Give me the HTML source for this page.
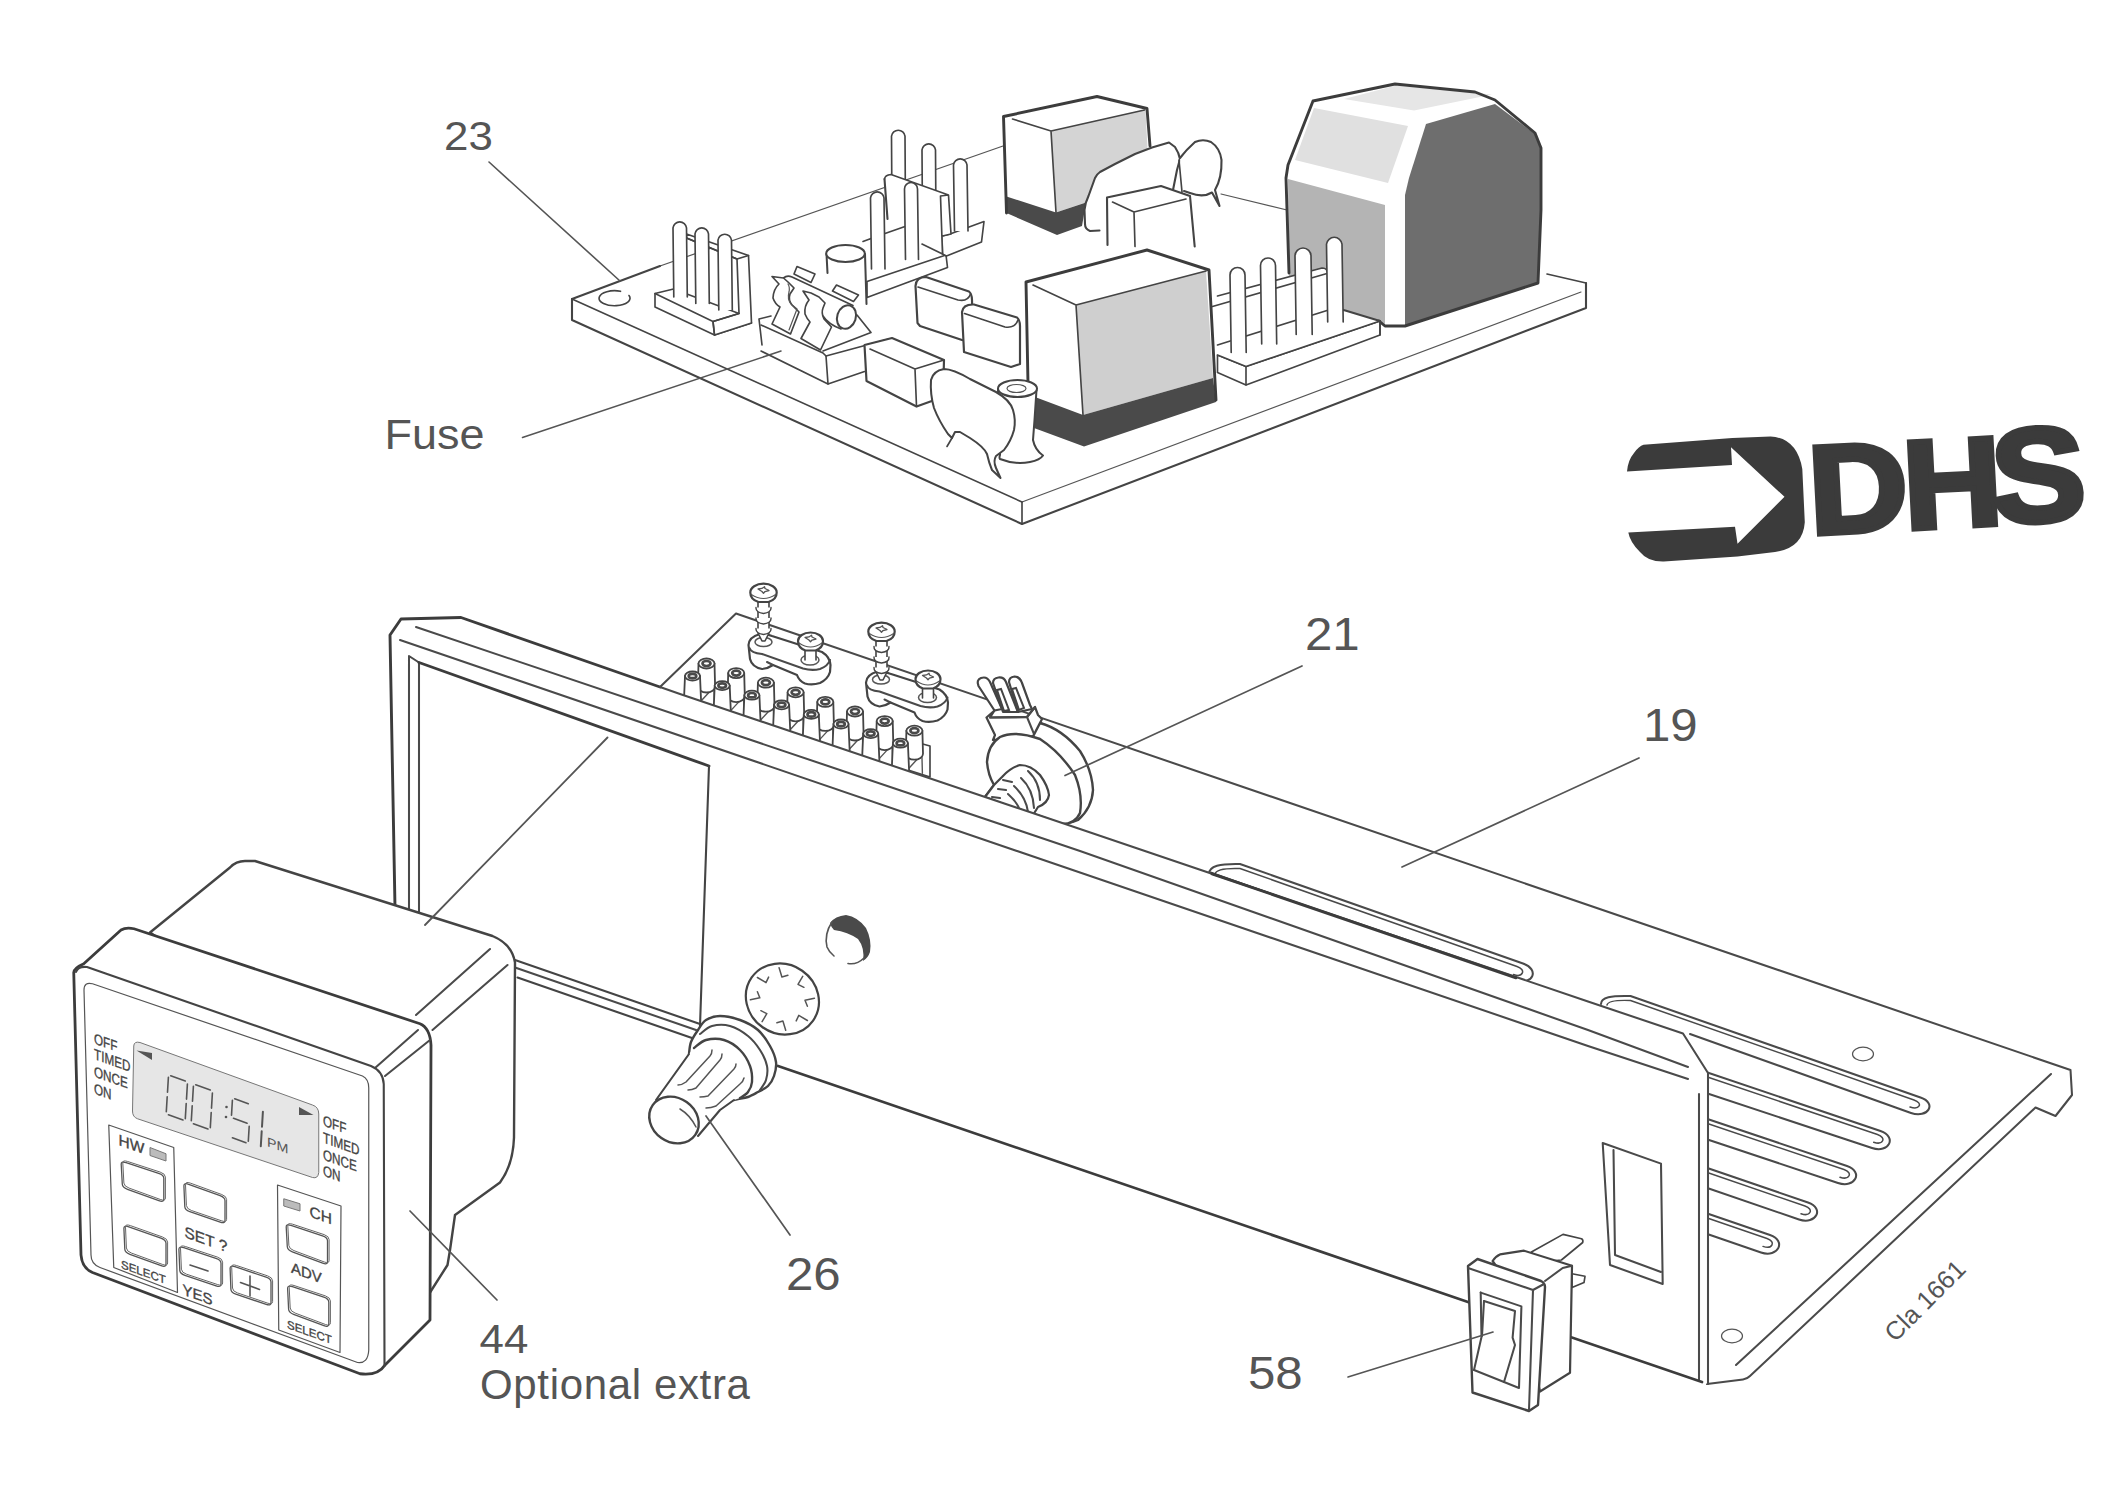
<!DOCTYPE html>
<html><head><meta charset="utf-8"><title>Cla 1661</title>
<style>
html,body{margin:0;padding:0;background:#fff;}
body{width:2118px;height:1502px;overflow:hidden;font-family:"Liberation Sans",sans-serif;}
svg{display:block;position:absolute;left:0;top:0;}
svg text{font-family:"Liberation Sans",sans-serif;fill:#555;}
.l{fill:none;stroke:#444;stroke-width:1.65;stroke-linecap:round;stroke-linejoin:round;}
.k{fill:none;stroke:#3c3c3c;stroke-width:2.9;stroke-linecap:round;stroke-linejoin:round;}
.m{fill:none;stroke:#444;stroke-width:2.1;stroke-linecap:round;stroke-linejoin:round;}
.p{fill:none;stroke:#4a4a4a;stroke-width:2.05;stroke-linecap:round;stroke-linejoin:round;}
.t{fill:none;stroke:#555;stroke-width:1.2;stroke-linecap:round;stroke-linejoin:round;}
.w{fill:#fff;stroke:#444;stroke-width:1.65;stroke-linecap:round;stroke-linejoin:round;}
.wk{fill:#fff;stroke:#3c3c3c;stroke-width:2.9;stroke-linecap:round;stroke-linejoin:round;}
.wt{fill:#fff;stroke:#555;stroke-width:1.3;stroke-linecap:round;stroke-linejoin:round;}
</style></head><body>
<svg width="2118" height="1502" viewBox="0 0 2118 1502">
<!-- PCB board -->
<g id="pcb-board">
<path class="t" d="M660 266 L1003 146"/>
<path class="t" d="M1221 194 L1287 210"/>
<path class="m" d="M572 299 L660 266"/>
<path class="l" d="M1547 274 L1586 283"/>
<path class="l" d="M572 299 L1022 502"/>
<path class="t" d="M1022 502 L1581 292"/>
<path class="m" d="M572 299 L572 320 L1022 524 L1586 308 L1586 283"/>
<path class="l" d="M1022 502 L1022 524"/>
<path class="l" d="M620.5 291.3 A15.5 7.5 0 1 0 629 295.5"/>
</g>

<!-- relay 1 (back) -->
<g id="relay1">
<path d="M1003.5 116.5 L1097 96.5 L1147 108.5 L1151 200 L1084 226 L1057 235 L1006.5 213 Z" fill="#fff"/>
<path d="M1051 131 L1145.5 109.5 L1150 198 L1084 203 L1056 212.5 Z" fill="#d4d4d4"/>
<path d="M1006.5 196.5 L1056 212.5 L1086 202.5 L1082 226 L1057 235 L1006.5 213 Z" fill="#4a4a4a"/>
<path class="l" d="M1012.5 119 L1051 131 L1144.5 110 M1051 131 L1056 212.5"/>
<path class="k" d="M1006.5 213 L1003.5 116.5 L1097 96.5 L1147 108.5 L1150 146"/>
</g>

<!-- disc caps 1,2 and small cube -->
<g id="disc12">
<path d="M1099.5 230.5 L1090 231 Q1085 229 1085 224 L1084.5 210 Q1085 203 1088.5 196 L1095 178 Q1097 174 1100 172 L1115 164 L1135 154 L1152 147.5 L1169 142.5 L1175 147 Q1179 153 1180 159 L1177 170 L1173 192 L1120 215 Z" fill="#fff"/>
<path class="m" d="M1099.5 230.5 L1090 231 Q1085 229 1085 224 L1084.5 210 Q1085 203 1088.5 196 L1095 178 Q1097 174 1100 172 L1115 164 L1135 154 L1152 147.5 L1169 142.5 L1175 147 Q1179 153 1180 159 L1177 170 L1173 190"/>
<path d="M1180 158 Q1186 150 1195 142 Q1203 138.5 1211 142 Q1220 148 1221.5 160 Q1222 178 1215 190 L1203 196 L1183 192 Z" fill="#fff"/>
<path class="m" d="M1180 158 Q1186 150 1195 142 Q1203 138.5 1211 142 Q1220 148 1221.5 160 Q1222 178 1215 190 L1219.5 206 L1212 192.5 Q1203 198 1190 193 L1184 191"/>
<path class="l" d="M1179 160 L1182 192"/>
</g>
<g id="cube">
<path d="M1107.5 246 L1107 197.5 L1161 186 L1190 196 L1194.7 246.5 Z" fill="#fff"/>
<path class="m" d="M1107.5 245 L1107 197.5 L1161 186 L1190 196 L1194.7 246.5"/>
<path class="l" d="M1112.5 202 L1134 212 L1186 199 M1134 212 L1135 246.5"/>
</g>

<!-- transformer -->
<g id="transformer">
<path d="M1289 273 L1286 178 L1288 165 L1313 101 L1395 84 L1475 92 L1495 100 L1535 133 L1541 148 L1541 210 L1538 283 L1405 326 L1385 326 L1379 321 Z" fill="#fff"/>
<path d="M1288 179 L1385 205 L1385 324 L1289 290 Z" fill="#b4b4b4"/>
<path d="M1314 108 L1408 126 L1388 183 L1295 160 Z" fill="#e0e0e0"/>
<path d="M1344 99 L1396 85.5 L1492 94.5 L1414 110.5 Z" fill="#e6e6e6"/>
<path d="M1405 326 L1405 195 L1409 178 L1426 124 L1495 104 L1535 134 L1541 148 L1541 210 L1538 283 Z" fill="#6e6e6e"/>
<path class="k" d="M1289 273 L1286 178 L1288 165 L1313 101 L1395 84 L1475 92 L1495 100 L1535 133 L1541 148 L1541 210 L1538 283 L1405 326 L1385 326 L1379 321"/>
</g>

<g id="hdr6">
<path class="w" d="M867 281.5 L946 255 L947.5 267.5 L867 297.5 Z"/>
<path class="w" d="M950 234 L984 221.5 L981.5 242 L946.5 256 L942.5 254 L942 236 Z"/>
<path class="w" d="M892.0 215 L891.5 136.2 A6.8 6.8 0 0 1 905 136.2 L905.5 215"/>
<path class="w" d="M922.5 225 L922 149.8 A6.8 6.8 0 0 1 935.5 149.8 L936.0 225"/>
<path class="w" d="M954.5 231 L953.5 164.8 A6.8 6.8 0 0 1 967 164.8 L968.0 231"/>
<path d="M884.5 179 Q885 175 891 174.5 L948.5 195 L951 234 L942.5 236 L942.5 254 L922 244 L905 226.5 L885 233.5 Z" fill="#fff"/>
<path class="l" d="M885 233.5 L905 226.5 M922 244 L942.5 254 L940.5 196 L948.5 195 L951 234 L942.5 236 M948.5 195 L891 174.5 Q885 175 884.5 179"/>
<path class="m" d="M884.5 179 L887.5 219"/>
<path class="l" d="M863 241.5 L871 238.5"/>
<path class="w" d="M871.5 269 L870.5 197.8 A6.8 6.8 0 0 1 884 197.8 L885.0 269"/>
<path class="w" d="M905.5 259.5 L904.5 189.0 A6.5 6.5 0 0 1 917.5 189.0 L918.5 259.5"/>
</g>
<g id="hdr3">
<path class="w" d="M655 293.5 L673.5 289 L739 313.5 L751.5 323 L714.5 335 L655 307 Z"/>
<path class="w" d="M686.5 234 L748.5 255.5 L751.5 323 L714.5 335 L713 321.5 L739 313.5 L737 259 L686.5 238 Z"/>
<path class="l" d="M737 259 L748.5 255.5 M686.5 238 L737 259"/>
<path class="l" d="M655 293.5 L713 321.5 L714.5 335 M713 321.5 L739 313.5"/>
<path class="w" d="M673.8 297 L673 227.8 A6.8 6.8 0 0 1 686.5 227.8 L687.3 297"/>
<path class="w" d="M695.8 303.5 L695 233.8 A6.8 6.8 0 0 1 708.5 233.8 L709.3 303.5"/>
<path class="w" d="M718.8 310 L718 240.2 A6.8 6.8 0 0 1 731.5 240.2 L732.3 310"/>
</g>
<!-- cylinder capacitor -->
<g id="cylcap">
<path class="w" style="stroke-width:2.02" d="M827.5 273 L826.5 254 L865 254 L866.5 304" />
<ellipse class="w" style="stroke-width:2.02" cx="845.5" cy="253.5" rx="19.3" ry="8.5"/>
</g>
<!-- fuse holder -->
<g id="fuse">
<path fill="#fff" d="M759 319 L761 345 L828 384 L865 371 L889 338 L871 332.5 L857 315 L790 280 Z"/>
<path class="l" d="M771 316 L759 319 L762 345"/>
<path class="l" d="M761 351 L828 384 L864.5 371.5"/>
<path class="l" d="M761 325 L823 353 L826 356 L828 384"/>
<path class="l" d="M823 351 L871 332.5 L857 315 M826 356 L889 339"/>
<!-- end cap rects -->
<path class="w" d="M794 274 L797 266.5 L815 274 L811 282.5 Z"/>
<path class="w" d="M832.5 291 L836.5 285 L858.5 295 L853.5 301.5 Z"/>
<!-- fuse body -->
<path fill="#fff" d="M783.5 278 Q787 275 792 277 L853 305.5 L850 329 L824 319 L790 300 Z"/>
<path class="l" d="M783.5 278 Q787 275 792 277 L853 305.5"/>
<path class="l" d="M823 316 Q828 324 841 329"/>
<ellipse class="w" style="stroke-width:2.02" cx="846.5" cy="317" rx="9.3" ry="12" transform="rotate(18 846.5 317)"/>
<!-- clip 1 -->
<path class="w" d="M772 276.5 L779 284 Q773.5 289 773 298 Q775 304 780 307 L772 324 L790.5 334 L799 312 L792 305 Q788 300 790 294 L794 288 L788 282 L783.5 278 Z"/>
<path class="t" d="M788 284 Q790 287 789 292 Q787 299 791 304 L797 309 L789 330"/>
<!-- clip 2 -->
<path class="w" d="M803 291 L809 300 Q804 306 805 314 Q807 319 810 322 L801 338.5 L820.5 350 L831.5 327 L824 319 Q821 313 823 308 L825 303 L819 297 L811 293 Z"/>
</g>
<!-- oval caps -->
<g id="ovalcaps">
<path class="w" style="stroke-width:2.18" d="M915.5 286 Q916 277 926 277 L969 291.5 Q972 294 972 300 L973 342 L962 340 L920 326 L917.5 323 Z"/>
<path class="l" d="M918 287 L958 300 Q968 302 970.5 294"/>
<path class="w" style="stroke-width:2.18" d="M962 312 Q963 304 974 304.5 L1017 317.5 Q1020 320 1020 326 L1020 364 L1011 367 L964 352 Z"/>
<path class="l" d="M964.5 313.5 L1005 327 Q1015 328.5 1018 320"/>
</g>
<!-- resistor box -->
<g id="resbox">
<path class="w" style="stroke-width:2.18" d="M864.5 345 L892 338 L944 360 L943 397 L916.5 406.5 L866.5 381 Z"/>
<path class="l" d="M870 349 L915 369 L944 360 M915 369 L916.5 406.5"/>
</g>

<g id="hdr4">
<path class="w" d="M1217.5 355 L1246 366.5 L1380 321 L1380 335 L1246 385 L1217.5 372.5 Z"/>
<path class="l" d="M1246 366.5 L1246 385"/>
<path fill="#fff" d="M1212 306.5 L1217.5 296 L1322 268 L1327 270 L1327 310.5 L1342 309.5 L1380 321 L1246 366.5 L1217.5 355 Z"/>
<!-- slab edge fix --><path class="l" d="M1217.5 355 L1246 366.5 L1380 321 L1380 335"/>
<path class="l" d="M1217.5 296 L1322 268 Q1326 268 1327 271 M1212.5 306.5 L1327 273.5 M1217.5 345 L1327 310.5"/>
<path class="m" d="M1342 309.5 L1380 321"/>
<path class="w" d="M1231.2 352.5 L1230 275.0 A7.5 7.5 0 0 1 1245 275.0 L1246.2 352.5"/>
<path class="w" d="M1261.7 344 L1260.5 265.5 A7.5 7.5 0 0 1 1275.5 265.5 L1276.7 344"/>
<path class="w" d="M1296.2 334.5 L1295 256.0 A8.0 8.0 0 0 1 1311 256.0 L1312.2 334.5"/>
<path class="w" d="M1327.7 322 L1326.5 244.2 A7.8 7.8 0 0 1 1342 244.2 L1343.2 322"/>
</g>
<!-- relay 2 (front) -->
<g id="relay2">
<path d="M1026 282 L1147 250 L1209 270 L1216 402 L1084 446 L1036 426 L1028 387 Z" fill="#fff"/>
<path d="M1076 305 L1206 271 L1213 378 L1083 415 Z" fill="#cfcfcf"/>
<path d="M1035 397 L1083 415 L1213 378 L1216 402 L1084 446.5 L1034 428 Z" fill="#4a4a4a"/>
<path class="l" d="M1033 285 L1076 305 L1206 271 M1076 305 L1083 415"/>
<path class="k" d="M1028 384 L1026 282 L1147 250 L1209 270 L1216 400"/>
</g>

<!-- standoff + disc cap 3 -->
<g id="standoff">
<path class="w" style="stroke-width:2.02" d="M998 389 L1000 455 Q999 458 1000 459 Q1015 465 1030 462 Q1040 460 1043 455.5 Q1035 450 1033 440 L1034.5 420 L1036.5 390 Z"/>
<ellipse class="w" style="stroke-width:2.02" cx="1017.5" cy="388.5" rx="19.5" ry="8.5"/>
<ellipse class="t" cx="1016.5" cy="388.5" rx="9.5" ry="4"/>
</g>
<g id="disc3">
<path class="w" style="stroke-width:2.02" d="M952 438 L948 434 Q939 421 934 408 Q930 394 931 380 Q933 371 944 369 Q953 369 970 379 L996 392 Q1010 400 1013 410 Q1016 420 1014 430 Q1011 441 1004 450 L996 456 Q993 461 996 468 L1000.5 478 L992 470 Q989 463 987 454 Q984 447 970 438 L960 432 L955 432 Z"/>
<path class="l" d="M952 438 L947 446.5"/>
</g>

<!-- labels top -->
<g id="labels-top">
<text transform="translate(444 150) scale(1.07 1)" font-size="41">23</text>
<path class="t" style="stroke-width:1.6" d="M489 162 L620 281"/>
<text transform="translate(384.5 448.5) scale(1.07 1)" font-size="42">Fuse</text>
<path class="t" style="stroke-width:1.51" d="M522.5 437.5 L781 351"/>
</g>

<!-- DHS logo -->
<g id="logo" fill="#3b3b3b">
<path d="M1643.5 444.8 L1732.4 438 L1770.5 436.4 Q1797 438 1802.3 469 L1804.8 522.2 Q1803 548 1775 552 L1737.5 556.5 L1663.8 561.6 Q1648 562 1640 552 Q1630 542 1628.3 532.4 L1735 526.8 L1737.5 543.8 L1784.5 496.8 L1731 447.3 L1732 465 L1627 471.4 Q1628 460 1634 453 Q1639 446 1643.5 444.8 Z"/>
<g transform="translate(1815 534) rotate(-3) scale(1.09 1)">
<text x="-4" y="0" font-size="126" font-weight="bold" style="fill:#3b3b3b;stroke:#3b3b3b;stroke-width:5.5;letter-spacing:-4px">DH</text>
</g>
<g transform="translate(1815 534) rotate(-3) scale(1.055 1)">
<text x="169.5" y="-1" font-size="134" font-weight="bold" style="fill:#3b3b3b;stroke:#3b3b3b;stroke-width:5.5;">S</text>
</g>
</g>

<!-- chassis tray -->
<g id="tray">
<path d="M660 687 L736 613.5 L2070.5 1070 L2072 1095 L2055.5 1116 L2035.5 1107.5 L1749 1377 Q1747 1379 1744 1379.5 L1707 1384 L1200 1200 Z" fill="#fff"/>
<path class="p" d="M660 687 L736 613.5 L2070.5 1070 L2072 1095 L2055.5 1116 L2035.5 1107.5 L1750 1376 Q1747 1379 1743 1379.5 L1707 1384"/>
<path class="p" d="M1736 1365 L2051 1074"/>

<path class="p" d="M1209 874 C1209 866 1220 863.5 1240 864 L1523 963.5 C1540.0 969.3 1533.0 985.8 1516.0 980.0"/>
<path class="p" style="stroke-width:1.5" d="M1215 874 C1216 869.5 1226 868 1240 868.5 L1517 966.5 C1526.5 969.7 1523.0 977.7 1513.5 974.5"/>
<path class="k" d="M1211 873 L1513 981"/>
<path class="p" d="M1601 1004 C1601 997 1611 995.5 1630.5 996 L1920.5 1097.5 C1937.5 1103.3 1928.0 1118.8 1911.0 1113.0 L1690 1034"/>
<path class="p" style="stroke-width:1.5" d="M1607 1005 C1608 1001 1618 1000 1630.5 1000.5 L1914 1100 C1923.5 1103.2 1919.5 1110.2 1910.0 1107.0"/>
<path class="p" d="M1700 1070 L1880.5 1131 C1897.5 1136.8 1889.0 1153.8 1872.0 1148.0 L1700 1091"/>
<path class="p" style="stroke-width:1.5" d="M1700 1074.5 L1877.5 1134.5 C1886.9 1137.7 1883.0 1145.4 1873.7 1142.2"/>

<path class="p" d="M1700 1116.5 L1847 1166 C1864.0 1171.8 1855.0 1188.8 1838.0 1183.0 L1700 1137"/>
<path class="p" style="stroke-width:1.5" d="M1700 1121.0 L1844.0 1169.5 C1853.4 1172.7 1849.3 1180.4 1840.0 1177.2"/>

<path class="p" d="M1700 1165.5 L1808 1202.5 C1825.0 1208.3 1816.0 1225.3 1799.0 1219.5 L1700 1185.5"/>
<path class="p" style="stroke-width:1.5" d="M1700 1170.0 L1805.0 1206.0 C1814.4 1209.2 1810.3 1216.9 1801.0 1213.7"/>

<path class="p" d="M1700 1211 L1770 1235 C1787.0 1240.8 1778.0 1258.3 1761.0 1252.5 L1700 1231.5"/>
<path class="p" style="stroke-width:1.5" d="M1700 1215.5 L1767.0 1238.5 C1776.4 1241.7 1772.3 1249.6 1763.0 1246.4"/>

<ellipse class="t" cx="1863" cy="1054" rx="10.5" ry="6.8"/>
<ellipse class="t" cx="1732" cy="1336" rx="10.5" ry="6.8"/>
</g>
<!-- terminal block, clamps, screws, pot -->
<g id="ontray">
<path class="w" d="M908 740 L930 746 L930 777 L908 770 Z"/>
<path class="t" style="stroke-width:1.4" d="M713.5 687.5 L701.5 700.5 M714.0 687.0 L714.5 706.0"/>
<path class="t" style="stroke-width:1.4" d="M743.2 697.1 L731.2 710.1 M743.7 696.6 L744.2 715.6"/>
<path class="t" style="stroke-width:1.4" d="M772.9 706.7 L760.9 719.7 M773.4 706.2 L773.9 725.2"/>
<path class="t" style="stroke-width:1.4" d="M802.6 716.3 L790.6 729.3 M803.1 715.8 L803.6 734.8"/>
<path class="t" style="stroke-width:1.4" d="M832.3 725.9 L820.3 738.9 M832.8 725.4 L833.3 744.4"/>
<path class="t" style="stroke-width:1.4" d="M862.0 735.5 L850.0 748.5 M862.5 735.0 L863.0 754.0"/>
<path class="t" style="stroke-width:1.4" d="M891.7 745.1 L879.7 758.1 M892.2 744.6 L892.7 763.6"/>
<path class="t" style="stroke-width:1.4" d="M921.4 754.7 L909.4 767.7 M921.9 754.2 L922.4 773.2"/>
<path class="w" style="stroke-width:1.8" d="M698.5 663.5 L697.9 686.5 A8.6 6.0 0 0 0 715.1 686.5 L714.5 663.5"/><ellipse class="w" style="stroke-width:1.8" cx="706.5" cy="663.5" rx="8.0" ry="5.0"/><ellipse cx="706.5" cy="663.5" rx="4.0" ry="2.5" fill="#fff" stroke="#4a4a4a" stroke-width="2.7"/>
<path class="w" style="stroke-width:1.8" d="M728.2 673.1 L727.6 696.1 A8.6 6.0 0 0 0 744.8 696.1 L744.2 673.1"/><ellipse class="w" style="stroke-width:1.8" cx="736.2" cy="673.1" rx="8.0" ry="5.0"/><ellipse cx="736.2" cy="673.1" rx="4.0" ry="2.5" fill="#fff" stroke="#4a4a4a" stroke-width="2.7"/>
<path class="w" style="stroke-width:1.8" d="M757.9 682.7 L757.3 705.7 A8.6 6.0 0 0 0 774.5 705.7 L773.9 682.7"/><ellipse class="w" style="stroke-width:1.8" cx="765.9" cy="682.7" rx="8.0" ry="5.0"/><ellipse cx="765.9" cy="682.7" rx="4.0" ry="2.5" fill="#fff" stroke="#4a4a4a" stroke-width="2.7"/>
<path class="w" style="stroke-width:1.8" d="M787.6 692.3 L787.0 715.3 A8.6 6.0 0 0 0 804.2 715.3 L803.6 692.3"/><ellipse class="w" style="stroke-width:1.8" cx="795.6" cy="692.3" rx="8.0" ry="5.0"/><ellipse cx="795.6" cy="692.3" rx="4.0" ry="2.5" fill="#fff" stroke="#4a4a4a" stroke-width="2.7"/>
<path class="w" style="stroke-width:1.8" d="M817.3 701.9 L816.7 724.9 A8.6 6.0 0 0 0 833.9 724.9 L833.3 701.9"/><ellipse class="w" style="stroke-width:1.8" cx="825.3" cy="701.9" rx="8.0" ry="5.0"/><ellipse cx="825.3" cy="701.9" rx="4.0" ry="2.5" fill="#fff" stroke="#4a4a4a" stroke-width="2.7"/>
<path class="w" style="stroke-width:1.8" d="M847.0 711.5 L846.4 734.5 A8.6 6.0 0 0 0 863.6 734.5 L863.0 711.5"/><ellipse class="w" style="stroke-width:1.8" cx="855.0" cy="711.5" rx="8.0" ry="5.0"/><ellipse cx="855.0" cy="711.5" rx="4.0" ry="2.5" fill="#fff" stroke="#4a4a4a" stroke-width="2.7"/>
<path class="w" style="stroke-width:1.8" d="M876.7 721.1 L876.1 744.1 A8.6 6.0 0 0 0 893.3 744.1 L892.7 721.1"/><ellipse class="w" style="stroke-width:1.8" cx="884.7" cy="721.1" rx="8.0" ry="5.0"/><ellipse cx="884.7" cy="721.1" rx="4.0" ry="2.5" fill="#fff" stroke="#4a4a4a" stroke-width="2.7"/>
<path class="w" style="stroke-width:1.8" d="M906.4 730.7 L905.8 753.7 A8.6 6.0 0 0 0 923.0 753.7 L922.4 730.7"/><ellipse class="w" style="stroke-width:1.8" cx="914.4" cy="730.7" rx="8.0" ry="5.0"/><ellipse cx="914.4" cy="730.7" rx="4.0" ry="2.5" fill="#fff" stroke="#4a4a4a" stroke-width="2.7"/>
<path class="w" style="stroke-width:1.8" d="M685.0 676.0 L683.7 706.0 A8.8 5.5 0 0 0 701.3 706.0 L700.0 676.0"/><ellipse class="w" style="stroke-width:1.8" cx="692.5" cy="676.0" rx="7.5" ry="4.5"/><ellipse cx="692.5" cy="676.0" rx="3.8" ry="2.2" fill="#fff" stroke="#4a4a4a" stroke-width="2.7"/>
<path class="w" style="stroke-width:1.8" d="M714.7 685.6 L713.4 715.6 A8.8 5.5 0 0 0 731.0 715.6 L729.7 685.6"/><ellipse class="w" style="stroke-width:1.8" cx="722.2" cy="685.6" rx="7.5" ry="4.5"/><ellipse cx="722.2" cy="685.6" rx="3.8" ry="2.2" fill="#fff" stroke="#4a4a4a" stroke-width="2.7"/>
<path class="w" style="stroke-width:1.8" d="M744.4 695.2 L743.1 725.2 A8.8 5.5 0 0 0 760.7 725.2 L759.4 695.2"/><ellipse class="w" style="stroke-width:1.8" cx="751.9" cy="695.2" rx="7.5" ry="4.5"/><ellipse cx="751.9" cy="695.2" rx="3.8" ry="2.2" fill="#fff" stroke="#4a4a4a" stroke-width="2.7"/>
<path class="w" style="stroke-width:1.8" d="M774.1 704.8 L772.8 734.8 A8.8 5.5 0 0 0 790.4 734.8 L789.1 704.8"/><ellipse class="w" style="stroke-width:1.8" cx="781.6" cy="704.8" rx="7.5" ry="4.5"/><ellipse cx="781.6" cy="704.8" rx="3.8" ry="2.2" fill="#fff" stroke="#4a4a4a" stroke-width="2.7"/>
<path class="w" style="stroke-width:1.8" d="M803.8 714.4 L802.5 744.4 A8.8 5.5 0 0 0 820.1 744.4 L818.8 714.4"/><ellipse class="w" style="stroke-width:1.8" cx="811.3" cy="714.4" rx="7.5" ry="4.5"/><ellipse cx="811.3" cy="714.4" rx="3.8" ry="2.2" fill="#fff" stroke="#4a4a4a" stroke-width="2.7"/>
<path class="w" style="stroke-width:1.8" d="M833.5 724.0 L832.2 754.0 A8.8 5.5 0 0 0 849.8 754.0 L848.5 724.0"/><ellipse class="w" style="stroke-width:1.8" cx="841.0" cy="724.0" rx="7.5" ry="4.5"/><ellipse cx="841.0" cy="724.0" rx="3.8" ry="2.2" fill="#fff" stroke="#4a4a4a" stroke-width="2.7"/>
<path class="w" style="stroke-width:1.8" d="M863.2 733.6 L861.9 763.6 A8.8 5.5 0 0 0 879.5 763.6 L878.2 733.6"/><ellipse class="w" style="stroke-width:1.8" cx="870.7" cy="733.6" rx="7.5" ry="4.5"/><ellipse cx="870.7" cy="733.6" rx="3.8" ry="2.2" fill="#fff" stroke="#4a4a4a" stroke-width="2.7"/>
<path class="w" style="stroke-width:1.8" d="M892.9 743.2 L891.6 773.2 A8.8 5.5 0 0 0 909.2 773.2 L907.9 743.2"/><ellipse class="w" style="stroke-width:1.8" cx="900.4" cy="743.2" rx="7.5" ry="4.5"/><ellipse cx="900.4" cy="743.2" rx="3.8" ry="2.2" fill="#fff" stroke="#4a4a4a" stroke-width="2.7"/>
<g transform="translate(0 0)"><path class="w" style="stroke-width:2.2" d="M748.5 645 Q749 637 760 634 Q766 633.5 772 636 L822 652 Q830 657 830.5 665 L830 672 Q828 679 820 683 Q812 685.5 805 683.5 Q799 681 797 675 L773 665 Q768 668.5 762 669 Q752 667 750 659 Z"/><path class="p" d="M749.5 648 Q751 653 762 654 L803 668.5 Q812 671 820 669 Q828 666 830 660"/><path class="p" d="M773 665 L767 662"/><ellipse class="t" style="stroke-width:1.5" cx="763.5" cy="642" rx="8.5" ry="4.6"/><ellipse class="t" style="stroke-width:1.5" cx="810" cy="660" rx="9" ry="5"/></g>
<path class="w" style="stroke-width:1.6" d="M758.0 601.5 L758.0 633 L762.0 641 L765.0 641 L769.0 633 L769.0 601.5"/><path class="w" style="stroke-width:1.4" d="M756.0 607.5 Q755.5 612.5 763.5 613.5 Q771.5 612.5 771.0 607.5"/><path class="w" style="stroke-width:1.4" d="M756.0 618.0 Q755.5 623.0 763.5 624.0 Q771.5 623.0 771.0 618.0"/><path class="w" style="stroke-width:1.4" d="M756.0 628.5 Q755.5 633.5 763.5 634.5 Q771.5 633.5 771.0 628.5"/><path class="w" style="stroke-width:2.2" d="M750.3 592.5 A13.2 8.8 0 0 1 776.7 592.5 Q776.7 599.5 768.5 602.0 L758.5 602.0 Q750.3 599.5 750.3 592.5 Z"/><path class="t" style="stroke-width:1.2" d="M751.3 594.5 Q763.5 602.5 775.7 594.5"/><path class="t" style="stroke-width:1.3" d="M758.0 589.0 L761.96 588.46 L764.5 586.7 L765.04 588.46 L769.0 590.5 L765.04 591.54 L763.5 593.3 L761.96 591.54 Z"/>
<rect x="805.0" y="647" width="11" height="13" fill="#fff" stroke="none"/><path class="w" style="stroke-width:1.6" d="M805.0 649 L805.0 660 M816.0 649 L816.0 660"/><path class="w" style="stroke-width:2.2" d="M798.0 641 A12.5 8.5 0 0 1 823.0 641 Q823.0 648 815.5 650.5 L805.5 650.5 Q798.0 648 798.0 641 Z"/><path class="t" style="stroke-width:1.2" d="M799.0 643 Q810.5 651 822.0 643"/><path class="t" style="stroke-width:1.3" d="M805.0 637.5 L808.96 636.96 L811.5 635.2 L812.04 636.96 L816.0 639.0 L812.04 640.04 L810.5 641.8 L808.96 640.04 Z"/>
<g transform="translate(117.5 37.5)"><path class="w" style="stroke-width:2.2" d="M748.5 645 Q749 637 760 634 Q766 633.5 772 636 L822 652 Q830 657 830.5 665 L830 672 Q828 679 820 683 Q812 685.5 805 683.5 Q799 681 797 675 L773 665 Q768 668.5 762 669 Q752 667 750 659 Z"/><path class="p" d="M749.5 648 Q751 653 762 654 L803 668.5 Q812 671 820 669 Q828 666 830 660"/><path class="p" d="M773 665 L767 662"/><ellipse class="t" style="stroke-width:1.5" cx="763.5" cy="642" rx="8.5" ry="4.6"/><ellipse class="t" style="stroke-width:1.5" cx="810" cy="660" rx="9" ry="5"/></g>
<path class="w" style="stroke-width:1.6" d="M876.0 640.5 L876.0 672 L880.0 680 L883.0 680 L887.0 672 L887.0 640.5"/><path class="w" style="stroke-width:1.4" d="M874.0 646.5 Q873.5 651.5 881.5 652.5 Q889.5 651.5 889.0 646.5"/><path class="w" style="stroke-width:1.4" d="M874.0 657.0 Q873.5 662.0 881.5 663.0 Q889.5 662.0 889.0 657.0"/><path class="w" style="stroke-width:1.4" d="M874.0 667.5 Q873.5 672.5 881.5 673.5 Q889.5 672.5 889.0 667.5"/><path class="w" style="stroke-width:2.2" d="M868.3 631.5 A13.2 8.8 0 0 1 894.7 631.5 Q894.7 638.5 886.5 641.0 L876.5 641.0 Q868.3 638.5 868.3 631.5 Z"/><path class="t" style="stroke-width:1.2" d="M869.3 633.5 Q881.5 641.5 893.7 633.5"/><path class="t" style="stroke-width:1.3" d="M876.0 628.0 L879.96 627.46 L882.5 625.7 L883.04 627.46 L887.0 629.5 L883.04 630.54 L881.5 632.3 L879.96 630.54 Z"/>
<rect x="922.5" y="685" width="11" height="13" fill="#fff" stroke="none"/><path class="w" style="stroke-width:1.6" d="M922.5 687 L922.5 698 M933.5 687 L933.5 698"/><path class="w" style="stroke-width:2.2" d="M915.5 679 A12.5 8.5 0 0 1 940.5 679 Q940.5 686 933 688.5 L923 688.5 Q915.5 686 915.5 679 Z"/><path class="t" style="stroke-width:1.2" d="M916.5 681 Q928 689 939.5 681"/><path class="t" style="stroke-width:1.3" d="M922.5 675.5 L926.46 674.96 L929 673.2 L929.54 674.96 L933.5 677.0 L929.54 678.04 L928 679.8 L926.46 678.04 Z"/>
<g id="pot">
<path class="w" style="stroke-width:2.2" d="M994.5 710.5 L978.5 686 Q976 680 981 678 Q987 676 990 682 L1002 709 Z"/>
<path class="w" style="stroke-width:2.2" d="M1003 712 L993 683 Q993 678 998.5 677.5 Q1004 677 1006 682 L1018 712 Z"/>
<path class="w" style="stroke-width:2.2" d="M1018 712 L1009 682 Q1009 677 1014.5 676.5 Q1020 677 1022 683 L1030 705 L1032 709 Z"/>
<path d="M997 690 L1001 689 L1009 710 L1004 711 Z M1012 689 L1016 688 L1024 708 L1019 710 Z" fill="#fff" stroke="#444" stroke-width="2"/>
<path class="w" style="stroke-width:2.2" d="M994.5 710.5 L986.5 717.5 L995 735 L993 740 L1034 736 L1043 724 L1040 723 L1042 719 L1038 715 L1035 707 L1027 717 L990 717.5 Z"/>
<path class="p" d="M990 717.5 L1027 717 L1035 707 M1027 717 L1034 734"/>
<path class="w" style="stroke-width:2.4" d="M1040 723 Q1062 729 1080 751 Q1092 770 1093 790 Q1092 808 1078 820 Q1070 824 1062 823 L1000 800 Z"/>
<path class="w" style="stroke-width:2.4" d="M987 762 Q988 745 1000 737 Q1015 730 1040 739 Q1060 752 1075 775 Q1083 795 1080 813 Q1075 824 1062 824 L985 797 L994 785 Q988 775 987 762 Z"/>
<path class="w" style="stroke-width:2.2" d="M985 797 L994 785 L1002 777 Q1010 768 1020 765 Q1031 765 1040 775 Q1048 786 1049 795 Q1048 803 1038 807 L1033 815 Z"/>
<path class="p" d="M1003 780 L1012 782 M998 789 L1006 790 M992 797 L1000 798 M1028 771 Q1040 782 1040 800 M1021 778 Q1033 789 1034 808 M1014 786 Q1026 797 1028 812 M1008 794 Q1018 803 1020 811"/>
</g>
</g>
<!-- front panel -->
<g id="panel">
<path d="M390 635 L401 619 L461 617.5 L680 694 L1080 829 L1588 1001.5 L1683 1033.5 L1708 1073 L1708 1384 L516 977 L395 935 Z" fill="#fff"/>
<!-- outer outline -->
<path class="k" d="M395 907.5 L390 635 L401 619 L461 617.5 L660 687"/>
<path class="p" d="M660 687 L680 694 L1080 829 L1588 1001.5 L1683 1033.5 L1708 1073 L1708 1384"/>
<path class="p" d="M1699 1094 L1699 1381"/>
<!-- slot1 thick --><path class="k" d="M1212 873.8 L1516 977.8"/>
<!-- flange lines b, c -->
<path class="p" d="M416 627 L1080 851 L1588 1030 L1688 1067"/>
<path class="p" d="M400 640 L1080 872.5 L1588 1046 L1688 1079"/>
<!-- opening -->
<path class="p" d="M409 912 L409 656 L419 662.5 L419 915"/>
<path class="k" d="M419 662.5 L709 766"/>
<path class="m" d="M709 766 L700 1026"/>
<path class="m" d="M515 960 L700 1024"/>
<path class="p" d="M515 967.5 L696 1030"/>
<path class="m" d="M517.5 977.5 L692 1038"/>
<!-- bottom edge -->
<path class="k" style="stroke-width:2.7" d="M778 1066 L1702 1382"/>
<!-- switch window -->
<path class="p" d="M1602.7 1143 L1661 1163.6 L1662.7 1284 L1610 1265 Z"/>
<path class="p" d="M1613.5 1150 L1615 1255 L1661 1272"/>
</g>

<!-- timer module -->
<g id="timer">
<path class="w" style="stroke-width:2.4" d="M150 932.5 L230 867.5 Q236 861 245 861 L255 861 L492.5 936 Q512 944 515 962.5 L514 1137.5 Q513 1165 500 1182.5 L455 1215 L450 1250 L447.5 1265 L430 1292.5 L400 1100 Z"/>
<path class="p" d="M416 1015 L490 949 M432.5 1030 L507.5 965"/>
<path class="wk" style="stroke-width:2.8" d="M73.75 972.5 Q74 968 83.75 963.75 L121 930 Q126 927 134 928.75 L420 1023.75 Q430 1028 431 1045 L430 1320 L385 1365 Q378 1376 360 1373.75 L92.5 1272.5 Q82 1268 81 1255 Z"/>
<path class="p" d="M375 1068 L418 1030 M385 1076 L430 1040"/>
<path class="m" d="M76 972 Q78 966 87 967 L371 1066 Q383 1071 383.75 1084 L384.5 1366"/>
<path class="t" d="M84 990 Q84 981.5 92.5 983.75 L362.5 1076 Q368.75 1079 368.75 1088 L368.75 1350 Q368 1364 357.5 1362.5 L100 1267.5 Q91 1264 91 1255 Z"/>
<path d="M133.75 1046 Q134 1041 140 1042.5 L312.5 1105 Q318.75 1107 318.75 1114 L318.75 1172.5 Q318 1179 312.5 1177.5 L137.5 1118.75 Q132.5 1117 132.5 1111 Z" fill="#e6e6e6" stroke="#777" stroke-width="1"/>
<path d="M136.5 1050.5 L152 1053 L152 1060 Z" fill="#555"/>
<path d="M299 1107 L313.5 1115 L299 1115 Z" fill="#555"/>
<path d="M170.7 1075.8 L185.3 1081.0" fill="none" stroke="#555" stroke-width="1.6" stroke-linecap="round" stroke-linejoin="round"/>
<path d="M168.4 1077.2 L167.5 1092.3" fill="none" stroke="#555" stroke-width="1.6" stroke-linecap="round" stroke-linejoin="round"/>
<path d="M167.2 1096.7 L166.3 1111.8" fill="none" stroke="#555" stroke-width="1.6" stroke-linecap="round" stroke-linejoin="round"/>
<path d="M187.4 1084.0 L186.5 1099.1" fill="none" stroke="#555" stroke-width="1.6" stroke-linecap="round" stroke-linejoin="round"/>
<path d="M186.2 1103.5 L185.3 1118.6" fill="none" stroke="#555" stroke-width="1.6" stroke-linecap="round" stroke-linejoin="round"/>
<path d="M168.4 1114.8 L183.0 1120.0" fill="none" stroke="#555" stroke-width="1.6" stroke-linecap="round" stroke-linejoin="round"/>
<path d="M195.7 1084.8 L210.3 1090.0" fill="none" stroke="#555" stroke-width="1.6" stroke-linecap="round" stroke-linejoin="round"/>
<path d="M193.4 1086.2 L192.5 1101.3" fill="none" stroke="#555" stroke-width="1.6" stroke-linecap="round" stroke-linejoin="round"/>
<path d="M192.2 1105.7 L191.3 1120.8" fill="none" stroke="#555" stroke-width="1.6" stroke-linecap="round" stroke-linejoin="round"/>
<path d="M212.4 1093.0 L211.5 1108.1" fill="none" stroke="#555" stroke-width="1.6" stroke-linecap="round" stroke-linejoin="round"/>
<path d="M211.2 1112.5 L210.3 1127.6" fill="none" stroke="#555" stroke-width="1.6" stroke-linecap="round" stroke-linejoin="round"/>
<path d="M193.4 1123.8 L208.0 1129.0" fill="none" stroke="#555" stroke-width="1.6" stroke-linecap="round" stroke-linejoin="round"/>
<circle cx="226.5" cy="1107" r="1.3" fill="#555"/><circle cx="226" cy="1117" r="1.3" fill="#555"/>
<path d="M234.7 1098.8 L248.3 1103.7" fill="none" stroke="#555" stroke-width="1.6" stroke-linecap="round" stroke-linejoin="round"/>
<path d="M232.4 1100.2 L231.5 1115.3" fill="none" stroke="#555" stroke-width="1.6" stroke-linecap="round" stroke-linejoin="round"/>
<path d="M233.5 1118.3 L247.1 1123.2" fill="none" stroke="#555" stroke-width="1.6" stroke-linecap="round" stroke-linejoin="round"/>
<path d="M249.2 1126.2 L248.3 1141.3" fill="none" stroke="#555" stroke-width="1.6" stroke-linecap="round" stroke-linejoin="round"/>
<path d="M232.4 1137.8 L246.0 1142.7" fill="none" stroke="#555" stroke-width="1.6" stroke-linecap="round" stroke-linejoin="round"/>
<path d="M262.9 1111.7 L262.0 1126.8" fill="none" stroke="#555" stroke-width="2.0" stroke-linecap="round" stroke-linejoin="round"/>
<path d="M261.7 1131.2 L260.8 1146.3" fill="none" stroke="#555" stroke-width="2.0" stroke-linecap="round" stroke-linejoin="round"/>
<text transform="matrix(1.1 0.4 0 1 267 1146)" font-size="13" style="fill:#555">PM</text>
<text transform="matrix(0.78 0.281 0 1 94 1043.5)" font-size="15" style="fill:#444;stroke:#444;stroke-width:0.35;letter-spacing:0px">OFF</text>
<text transform="matrix(0.78 0.281 0 1 94 1059.0)" font-size="15" style="fill:#444;stroke:#444;stroke-width:0.35;letter-spacing:0px">TIMED</text>
<text transform="matrix(0.78 0.281 0 1 94 1076.5)" font-size="15" style="fill:#444;stroke:#444;stroke-width:0.35;letter-spacing:0px">ONCE</text>
<text transform="matrix(0.78 0.281 0 1 94 1093.5)" font-size="15" style="fill:#444;stroke:#444;stroke-width:0.35;letter-spacing:0px">ON</text>
<text transform="matrix(0.78 0.281 0 1 323 1125.5)" font-size="15" style="fill:#444;stroke:#444;stroke-width:0.35;letter-spacing:0px">OFF</text>
<text transform="matrix(0.78 0.281 0 1 323 1142.5)" font-size="15" style="fill:#444;stroke:#444;stroke-width:0.35;letter-spacing:0px">TIMED</text>
<text transform="matrix(0.78 0.281 0 1 323 1159.5)" font-size="15" style="fill:#444;stroke:#444;stroke-width:0.35;letter-spacing:0px">ONCE</text>
<text transform="matrix(0.78 0.281 0 1 323 1175.5)" font-size="15" style="fill:#444;stroke:#444;stroke-width:0.35;letter-spacing:0px">ON</text>
<path class="t" d="M108.75 1125 L173.75 1147.5 L177.5 1292.5 L113.75 1267.5 Z"/>
<text transform="matrix(1 0.360 0 1 118.5 1145)" font-size="15.5" style="fill:#444;stroke:#444;stroke-width:0.35;letter-spacing:0px">HW</text>
<path d="M150 1147.5 L166 1153.75 L166 1161 L150 1155.5 Z" fill="#bbb" stroke="#777" stroke-width="1"/>
<path d="M126.1 1162.7 L158.6 1173.3 Q163.8 1175.0 163.8 1178.3 L163.8 1199.2 Q163.8 1202.5 158.8 1200.7 L127.5 1189.3 Q122.5 1187.5 122.3 1184.3 L121.2 1164.2 Q121.0 1161.0 126.1 1162.7 Z" fill="#fff" stroke="#555" stroke-width="1.3"/><path d="M126.1 1162.7 L158.6 1173.3 Q163.8 1175.0 163.8 1178.3 L163.8 1199.2 Q163.8 1202.5 158.8 1200.7 L127.5 1189.3 Q122.5 1187.5 122.3 1184.3 L121.2 1164.2 Q121.0 1161.0 126.1 1162.7 Z" fill="none" stroke="#666" stroke-width="1" transform="translate(1.6 -1.2)"/>
<path d="M128.8 1226.8 L160.9 1238.2 Q166.0 1240.0 166.0 1243.3 L166.0 1264.2 Q166.0 1267.5 161.1 1265.7 L129.9 1254.3 Q125.0 1252.5 124.8 1249.2 L123.9 1228.3 Q123.8 1225.0 128.8 1226.8 Z" fill="#fff" stroke="#555" stroke-width="1.3"/><path d="M128.8 1226.8 L160.9 1238.2 Q166.0 1240.0 166.0 1243.3 L166.0 1264.2 Q166.0 1267.5 161.1 1265.7 L129.9 1254.3 Q125.0 1252.5 124.8 1249.2 L123.9 1228.3 Q123.8 1225.0 128.8 1226.8 Z" fill="none" stroke="#666" stroke-width="1" transform="translate(1.6 -1.2)"/>
<text transform="matrix(1 0.360 0 1 121 1268)" font-size="11.5" style="fill:#444;stroke:#444;stroke-width:0.35;letter-spacing:0px">SELECT</text>
<path d="M188.7 1184.3 L220.1 1195.7 Q225.0 1197.5 225.0 1200.7 L225.0 1220.6 Q225.0 1223.8 220.2 1222.1 L189.8 1211.7 Q185.0 1210.0 184.8 1206.7 L183.9 1185.8 Q183.8 1182.5 188.7 1184.3 Z" fill="#fff" stroke="#555" stroke-width="1.3"/><path d="M188.7 1184.3 L220.1 1195.7 Q225.0 1197.5 225.0 1200.7 L225.0 1220.6 Q225.0 1223.8 220.2 1222.1 L189.8 1211.7 Q185.0 1210.0 184.8 1206.7 L183.9 1185.8 Q183.8 1182.5 188.7 1184.3 Z" fill="none" stroke="#666" stroke-width="1" transform="translate(1.6 -1.2)"/>
<text transform="matrix(1 0.360 0 1 184.5 1237)" font-size="15.5" style="fill:#444;stroke:#444;stroke-width:0.35;letter-spacing:0px">SET ?</text>
<path d="M183.8 1247.7 L215.9 1258.3 Q221.0 1260.0 221.0 1263.3 L221.0 1284.2 Q221.0 1287.5 216.1 1285.8 L184.9 1275.4 Q180.0 1273.8 179.8 1270.4 L178.9 1249.3 Q178.8 1246.0 183.8 1247.7 Z" fill="#fff" stroke="#555" stroke-width="1.3"/><path d="M183.8 1247.7 L215.9 1258.3 Q221.0 1260.0 221.0 1263.3 L221.0 1284.2 Q221.0 1287.5 216.1 1285.8 L184.9 1275.4 Q180.0 1273.8 179.8 1270.4 L178.9 1249.3 Q178.8 1246.0 183.8 1247.7 Z" fill="none" stroke="#666" stroke-width="1" transform="translate(1.6 -1.2)"/>
<path class="t" style="stroke-width:1.6" d="M190 1265 L208 1271"/>
<text transform="matrix(1 0.360 0 1 182.5 1294.5)" font-size="15" style="fill:#444;stroke:#444;stroke-width:0.35;letter-spacing:0px">YES</text>
<path d="M234.9 1266.7 L266.1 1277.1 Q271.0 1278.8 271.0 1282.0 L271.0 1302.7 Q271.0 1306.0 266.2 1304.4 L235.8 1294.1 Q231.0 1292.5 230.9 1289.2 L230.1 1268.3 Q230.0 1265.0 234.9 1266.7 Z" fill="#fff" stroke="#555" stroke-width="1.3"/><path d="M234.9 1266.7 L266.1 1277.1 Q271.0 1278.8 271.0 1282.0 L271.0 1302.7 Q271.0 1306.0 266.2 1304.4 L235.8 1294.1 Q231.0 1292.5 230.9 1289.2 L230.1 1268.3 Q230.0 1265.0 234.9 1266.7 Z" fill="none" stroke="#666" stroke-width="1" transform="translate(1.6 -1.2)"/>
<path class="t" style="stroke-width:1.6" d="M240.5 1282.5 L259.5 1289.5 M250 1276 L250 1296"/>
<path class="t" d="M277.5 1185 L341 1206 L340 1352.5 L278.75 1330 Z"/>
<path d="M283.75 1198.75 L300 1203.75 L300 1211 L283.75 1206 Z" fill="#bbb" stroke="#777" stroke-width="1"/>
<text transform="matrix(1 0.360 0 1 309.5 1216.5)" font-size="15.5" style="fill:#444;stroke:#444;stroke-width:0.35;letter-spacing:0px">CH</text>
<path d="M291.0 1225.4 L322.5 1235.8 Q327.5 1237.5 327.5 1240.8 L327.5 1261.7 Q327.5 1265.0 322.7 1263.2 L292.3 1251.8 Q287.5 1250.0 287.3 1246.8 L286.2 1226.9 Q286.0 1223.8 291.0 1225.4 Z" fill="#fff" stroke="#555" stroke-width="1.3"/><path d="M291.0 1225.4 L322.5 1235.8 Q327.5 1237.5 327.5 1240.8 L327.5 1261.7 Q327.5 1265.0 322.7 1263.2 L292.3 1251.8 Q287.5 1250.0 287.3 1246.8 L286.2 1226.9 Q286.0 1223.8 291.0 1225.4 Z" fill="none" stroke="#666" stroke-width="1" transform="translate(1.6 -1.2)"/>
<text transform="matrix(1 0.360 0 1 291 1272.5)" font-size="15" style="fill:#444;stroke:#444;stroke-width:0.35;letter-spacing:0px">ADV</text>
<path d="M292.4 1286.7 L323.8 1297.1 Q328.8 1298.8 328.8 1302.2 L328.8 1324.0 Q328.8 1327.5 323.9 1325.7 L293.6 1314.3 Q288.8 1312.5 288.6 1309.2 L287.6 1288.3 Q287.5 1285.0 292.4 1286.7 Z" fill="#fff" stroke="#555" stroke-width="1.3"/><path d="M292.4 1286.7 L323.8 1297.1 Q328.8 1298.8 328.8 1302.2 L328.8 1324.0 Q328.8 1327.5 323.9 1325.7 L293.6 1314.3 Q288.8 1312.5 288.6 1309.2 L287.6 1288.3 Q287.5 1285.0 292.4 1286.7 Z" fill="none" stroke="#666" stroke-width="1" transform="translate(1.6 -1.2)"/>
<text transform="matrix(1 0.360 0 1 287 1328)" font-size="11.5" style="fill:#444;stroke:#444;stroke-width:0.35;letter-spacing:0px">SELECT</text>
</g>
<!-- hole, washer, knob, switch -->
<g id="front">
<path d="M830 923 Q835 916 846 915 Q858 917 866 928 Q872 940 870 952 Q868 958 863 961 Q865 948 858 939 Q848 932 834 930 Q831 927 830 923 Z" fill="#4a4a4a"/>
<path class="t" style="stroke-width:1.6" d="M832 922 Q824 934 827 947 Q829 952 834 956 M848 963.5 Q857 965 864 958"/>
<ellipse class="w" style="stroke-width:2.2" cx="782.4" cy="999" rx="37.5" ry="34.5" transform="rotate(35 782.4 999)"/>
<path class="t" style="stroke-width:1.5" d="M807.4 1020.5 L798.8 1015.4 L796.2 1020.9 M785.7 1030.2 L782.9 1021.0 L776.9 1022.8 M762.1 1021.7 L766.8 1013.7 L760.9 1010.7 M750.4 999.8 L759.8 997.8 L757.4 991.8 M757.4 977.5 L766.0 982.6 L768.6 977.1 M779.1 967.8 L781.9 977.0 L787.9 975.2 M802.7 976.3 L798.0 984.3 L803.9 987.3 M814.4 998.2 L805.0 1000.2 L807.4 1006.2"/>
<g id="knob">
<path class="w" style="stroke-width:2.4" d="M689.0 1054.0 C689.3 1052.0 689.5 1046.0 691.0 1042.0 C692.5 1038.0 695.5 1033.7 698.0 1030.0 C700.5 1026.3 702.3 1022.3 706.0 1020.0 C709.7 1017.7 714.3 1016.0 720.0 1016.0 C725.7 1016.0 733.7 1017.7 740.0 1020.0 C746.3 1022.3 753.0 1025.7 758.0 1030.0 C763.0 1034.3 767.0 1040.7 770.0 1046.0 C773.0 1051.3 775.3 1057.0 776.0 1062.0 C776.7 1067.0 775.3 1072.0 774.0 1076.0 C772.7 1080.0 770.7 1083.3 768.0 1086.0 C765.3 1088.7 761.3 1090.2 758.0 1092.0 C754.7 1093.8 751.3 1095.8 748.0 1097.0 C744.7 1098.2 740.3 1098.5 738.0 1099.0 C735.7 1099.5 734.7 1099.8 734.0 1100.0 Z"/>
<path class="p" d="M700.0 1034.0 C702.0 1032.7 707.0 1027.3 712.0 1026.0 C717.0 1024.7 724.0 1024.3 730.0 1026.0 C736.0 1027.7 743.0 1032.0 748.0 1036.0 C753.0 1040.0 756.8 1045.0 760.0 1050.0 C763.2 1055.0 766.0 1061.0 767.0 1066.0 C768.0 1071.0 767.2 1076.0 766.0 1080.0 C764.8 1084.0 761.0 1088.3 760.0 1090.0"/>
<path d="M694.0 1048.0 C696.0 1046.7 701.0 1041.3 706.0 1040.0 C711.0 1038.7 718.3 1038.3 724.0 1040.0 C729.7 1041.7 735.7 1045.7 740.0 1050.0 C744.3 1054.3 748.0 1060.7 750.0 1066.0 C752.0 1071.3 752.3 1077.7 752.0 1082.0 C751.7 1086.3 750.0 1089.3 748.0 1092.0 C746.0 1094.7 741.3 1097.0 740.0 1098.0 L734 1100 L720 1110 L698 1136 L656 1100 L689 1054 Z" fill="#fff"/>
<path class="w" style="stroke-width:2.4;fill:none" d="M694.0 1048.0 C696.0 1046.7 701.0 1041.3 706.0 1040.0 C711.0 1038.7 718.3 1038.3 724.0 1040.0 C729.7 1041.7 735.7 1045.7 740.0 1050.0 C744.3 1054.3 748.0 1060.7 750.0 1066.0 C752.0 1071.3 752.3 1077.7 752.0 1082.0 C751.7 1086.3 750.0 1089.3 748.0 1092.0 C746.0 1094.7 741.3 1097.0 740.0 1098.0"/>
<path d="M689 1054 L656 1100 L650 1120 L690 1140 L698 1136 L720 1110 Z" fill="#fff"/>
<path class="m" d="M689 1054 L656 1100 M734 1100 L720 1110 L698 1136"/>
<path class="t" style="stroke-width:1.5" d="M712 1050 Q712 1054 710 1056 L686 1082 Q682 1085 678 1085 M722 1054 Q722 1058 720 1060 L696 1088 Q692 1090 688 1090 M736 1064 Q736 1067 734 1069 L708 1096 Q704 1097 700 1097 M744 1078 Q743 1082 740 1084 L716 1106 Q711 1108 706 1108"/>
<ellipse class="w" style="stroke-width:2.4" cx="674" cy="1120" rx="26" ry="22" transform="rotate(35 674 1120)"/>
<path class="t" style="stroke-width:1.5" d="M680 1109 Q690 1115 696 1127"/>
</g>
<g id="switch">
<path class="w" d="M1531.4 1252 L1563 1234.4 L1581.5 1238.8 Q1583.5 1240 1582.7 1242.5 L1561.4 1260 L1540 1262 Z"/>
<path class="w" d="M1572 1273.8 L1585 1276.3 L1584 1282.6 L1572 1287.6 Z"/>
<path class="w" style="stroke-width:2.2" d="M1492.6 1261 Q1496 1256 1500 1254.4 L1524 1250.7 L1572 1265.7 L1570 1372.7 L1540 1391.5 L1520 1300 Z"/>
<path class="p" d="M1572 1265.7 L1562.7 1268 L1545 1281"/>
<path class="w" style="stroke-width:2.4" d="M1468 1266 L1477.5 1259 L1541 1281 Q1545 1283 1545 1287 L1538 1405 L1529 1411 L1472.5 1392.5 Z"/>
<path class="p" d="M1468 1268 L1533 1290 L1529 1410 M1533 1290 L1544 1284"/>
<path class="p" d="M1480.7 1292.6 L1521.4 1306.4 L1519 1388 L1474 1370"/>
<path class="p" d="M1480.7 1292.6 L1481.5 1337 L1474 1370"/>
<path class="p" d="M1484 1301 L1515 1311 L1512.6 1337.6 L1515 1345 L1504 1382"/>
<path class="p" d="M1484 1301 L1482 1336"/>
</g>
</g>
<!-- labels bottom -->
<g id="labels-bottom">
<text transform="translate(1305 650) scale(1.07 1)" font-size="46">21</text>
<path class="t" style="stroke-width:1.7" d="M1065 775.5 L1302 666"/>
<text transform="translate(1643 741) scale(1.07 1)" font-size="46">19</text>
<path class="t" style="stroke-width:1.7" d="M1402 867 L1639 758"/>
<text transform="translate(786 1290) scale(1.07 1)" font-size="46">26</text>
<path class="t" style="stroke-width:1.7" d="M706 1116 L790 1235"/>
<text transform="translate(479.5 1353) scale(1.07 1)" font-size="41">44</text>
<path class="t" style="stroke-width:1.7" d="M410 1211 L497 1300"/>
<text x="480" y="1398.5" font-size="42" style="letter-spacing:0.65px">Optional extra</text>
<text transform="translate(1248 1389) scale(1.07 1)" font-size="46">58</text>
<path class="t" style="stroke-width:1.7" d="M1348 1377 L1493 1332"/>
<text transform="translate(1895 1343) rotate(-45)" font-size="25.5">Cla 1661</text>
<path class="t" style="stroke-width:1.8" d="M607.5 737.5 L425 925"/>
</g>
</svg>
</body></html>
